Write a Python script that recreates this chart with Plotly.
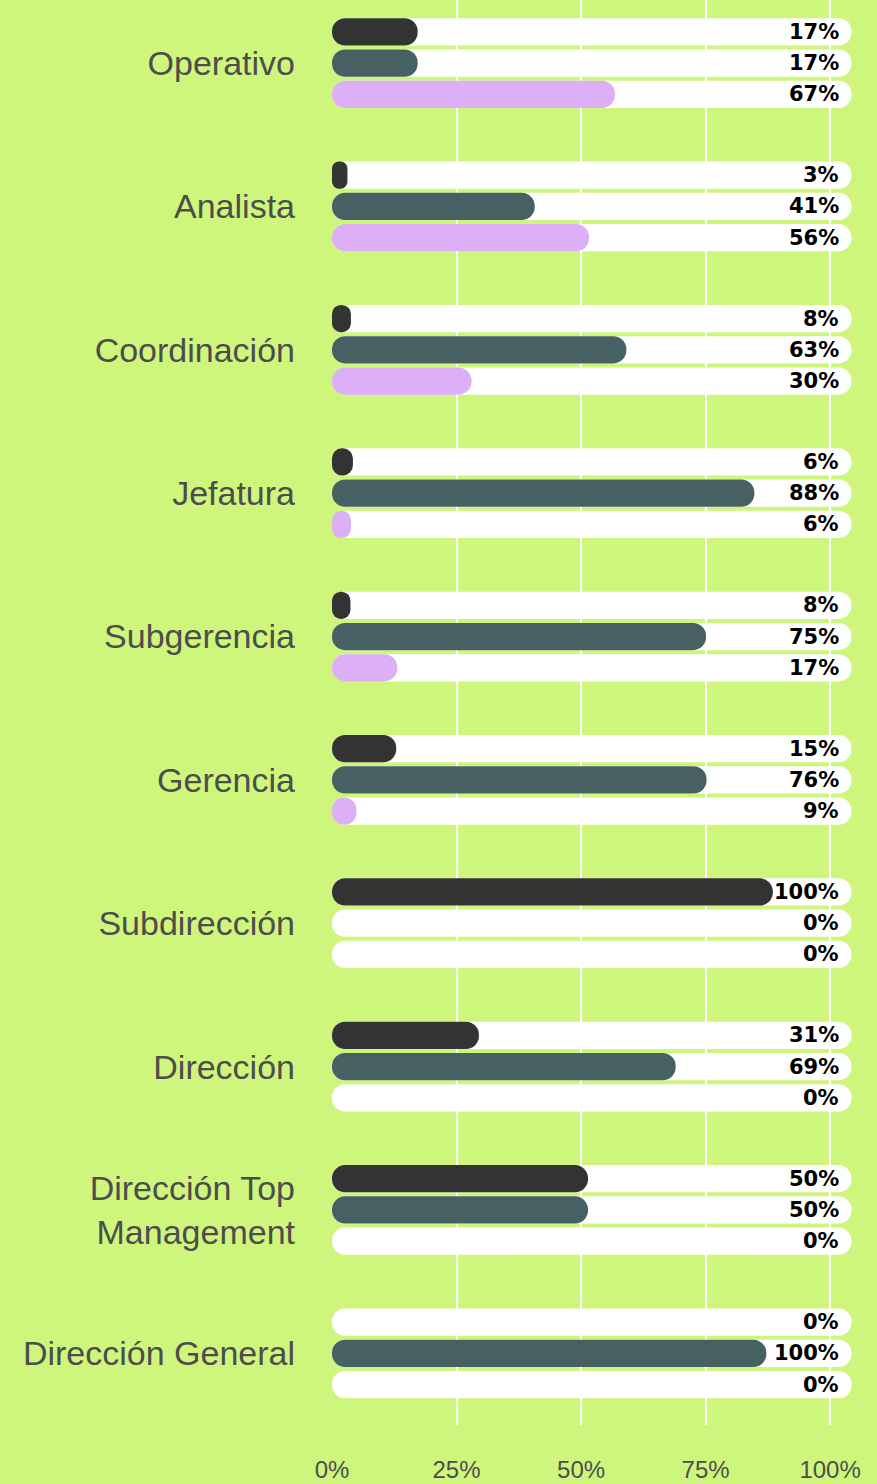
import plotly.graph_objects as go

# ---------------- data ----------------
categories = [
    "Operativo", "Analista", "Coordinación", "Jefatura", "Subgerencia",
    "Gerencia", "Subdirección", "Dirección", "Dirección Top<br>Management",
    "Dirección General",
]

# bar lengths as drawn in the picture (percent of axis)
bar_dark = [17.2, 3.1, 3.8, 4.2, 3.7, 12.9, 88.5, 29.5, 51.4, 0]
bar_teal = [17.2, 40.7, 59.1, 84.8, 75.1, 75.2, 0, 69.0, 51.4, 87.2]
bar_lav = [56.8, 51.6, 28.0, 3.8, 13.1, 4.9, 0, 0, 0, 0]

# percentages printed at the right of each track
pct_dark = [17, 3, 8, 6, 8, 15, 100, 31, 50, 0]
pct_teal = [17, 41, 63, 88, 75, 76, 0, 69, 50, 100]
pct_lav = [67, 56, 30, 6, 17, 9, 0, 0, 0, 0]

track_len = 104.3
x_ticks = [0, 25, 50, 75, 100]
x_ticktext = ["0%", "25%", "50%", "75%", "100%"]

# ---------------- style ----------------
BG = "#cff67c"
COL_DARK = "#333333"
COL_TEAL = "#476064"
COL_LAV = "#dcaff7"
LABEL_GREY = "#4d4d4d"
ROW_OFF = 0.218
BAR_W = 0.19

fig = go.Figure()


def add_rounded(ys, vals, color):
    fig.add_trace(go.Bar(
        orientation="h", y=ys, x=vals, base=[0] * len(vals), width=BAR_W,
        marker=dict(color=color, cornerradius="50%", line=dict(width=0)),
        hoverinfo="skip", showlegend=False,
    ))


series = [
    (bar_dark, pct_dark, COL_DARK, -ROW_OFF),
    (bar_teal, pct_teal, COL_TEAL, 0.0),
    (bar_lav, pct_lav, COL_LAV, ROW_OFF),
]

# white tracks
track_y, track_v = [], []
for _, _, _, off in series:
    for i in range(len(categories)):
        track_y.append(i + off)
        track_v.append(track_len)
add_rounded(track_y, track_v, "#ffffff")

# coloured bars
for vals, pcts, color, off in series:
    ys = [i + off for i in range(len(categories))]
    add_rounded(ys, vals, color)
    for i, p in enumerate(pcts):
        fig.add_annotation(
            x=102.2, y=i + off, text=f"{p}%", showarrow=False,
            xanchor="right", yanchor="middle",
            font=dict(family="DejaVu Sans", size=21, color="#000000", weight="bold"),
        )

fig.update_layout(
    width=877, height=1484,
    margin=dict(l=332, r=22, t=0, b=59),
    paper_bgcolor=BG, plot_bgcolor=BG,
    barmode="overlay", showlegend=False,
    font=dict(family="Liberation Sans", color=LABEL_GREY),
    xaxis=dict(
        range=[0, 105], tickvals=x_ticks, ticktext=x_ticktext,
        showgrid=True, gridcolor="#ffffff", gridwidth=1.5,
        zeroline=True, zerolinecolor=BG, zerolinewidth=1,
        ticks="", ticklabelstandoff=28, showline=False,
        tickfont=dict(family="Liberation Sans", size=24, color=LABEL_GREY),
        fixedrange=True,
    ),
    yaxis=dict(
        range=[9.5, -0.44], tickvals=list(range(len(categories))),
        ticktext=categories, showgrid=False, zeroline=False, showline=False,
        ticks="", ticklabelstandoff=36,
        tickfont=dict(family="Liberation Sans", size=34, color=LABEL_GREY),
        fixedrange=True,
    ),
)

fig.write_html(
    "out.html",
    config={"displayModeBar": False},
    post_script="document.body.style.margin='0';document.body.style.overflow='hidden';",
)
